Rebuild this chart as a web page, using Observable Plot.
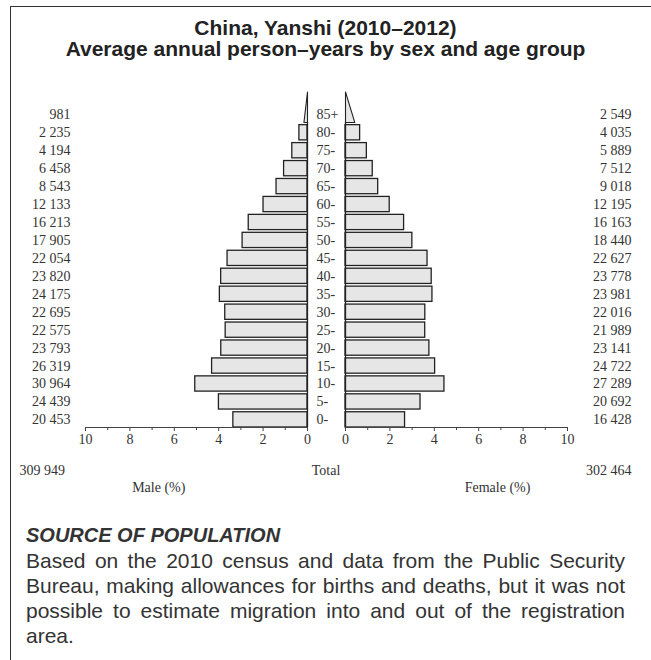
<!DOCTYPE html>
<html>
<head>
<meta charset="utf-8">
<script src="https://cdn.jsdelivr.net/npm/d3@7"></script>
<script src="https://cdn.jsdelivr.net/npm/@observablehq/plot@0.6"></script>
<style>
  body { margin: 0; background: #fff; }
  #frame { position: absolute; left: 10px; top: 6px; width: 700px; height: 700px; border-left: 1.5px solid #333; border-top: 1.5px solid #333; }
  #title { position: absolute; left: 0; top: 17px; width: 651px; text-align: center; font: bold 21px "Liberation Sans", Arial, sans-serif; line-height: 21px; color: #222; }
  #chart { position: absolute; left: 0; top: 69px; }
  #source { position: absolute; left: 26px; top: 523px; width: 599px; font: 21px "Liberation Sans", Arial, sans-serif; line-height: 25px; color: #333; text-align: justify; text-align-last: left; }
  #source .head { font-weight: bold; font-style: italic; font-size: 20px; }
</style>
</head>
<body>
<div id="frame"></div>
<div id="title"><div>China, Yanshi (2010–2012)</div><div>Average annual person–years by sex and age group</div></div>
<div id="chart"></div>
<div id="source"><div class="head">SOURCE OF POPULATION</div>Based on the 2010 census and data from the Public Security Bureau, making allowances for births and deaths, but it was not possible to estimate migration into and out of the registration area.</div>
<script>
// ---- data ----
const ages = ["0-", "5-", "10-", "15-", "20-", "25-", "30-", "35-", "40-", "45-", "50-", "55-", "60-", "65-", "70-", "75-", "80-", "85+"];
const male = [20453, 24439, 30964, 26319, 23793, 22575, 22695, 24175, 23820, 22054, 17905, 16213, 12133, 8543, 6458, 4194, 2235, 981];
const female = [16428, 20692, 27289, 24722, 23141, 21989, 22016, 23981, 23778, 22627, 18440, 16163, 12195, 9018, 7512, 5889, 4035, 2549];
const maleTotal = 309949;
const femaleTotal = 302464;
const majorTicks = [0, 2, 4, 6, 8, 10];
const minorTicks = [1, 3, 5, 7, 9];
const axisMax = 10;

// ---- layout helpers ----
const total = maleTotal + femaleTotal;
const gap = 0.856;            // half gap between the two halves, in % units
const h = 0.85;               // bar thickness in band units
const fmt = d3.formatLocale({decimal: ".", thousands: " ", grouping: [3], currency: ["", ""]}).format(",d");
const lastIdx = ages.length - 1;

const rows = ages.map((a, i) => ({
  age: a, i,
  m: male[i], f: female[i],
  mp: male[i] / total * 100,
  fp: female[i] / total * 100
}));
const barRows = rows.filter(r => r.i < lastIdx);
const oldest = rows[lastIdx];
const tri = [
  {side: "m", x: -gap, y: lastIdx - h / 2},
  {side: "m", x: -(gap + oldest.mp), y: lastIdx - h / 2},
  {side: "m", x: -gap, y: lastIdx - h / 2 + 2 * h},
  {side: "m", x: -gap, y: lastIdx - h / 2},
  {side: "f", x: gap, y: lastIdx - h / 2},
  {side: "f", x: gap + oldest.fp, y: lastIdx - h / 2},
  {side: "f", x: gap, y: lastIdx - h / 2 + 2 * h},
  {side: "f", x: gap, y: lastIdx - h / 2}
];

const fill = "#e6e6e7", stroke = "#222", ink = "#333";

const chart = Plot.plot({
  width: 651,
  height: 430,
  marginLeft: 0,
  marginRight: 0,
  marginTop: 35,
  marginBottom: 72,
  style: {fontFamily: "'Liberation Serif', 'Times New Roman', serif", fontSize: "14px", background: "transparent", color: ink},
  x: {domain: [-(gap + axisMax), gap + axisMax], range: [85, 567]},
  y: {domain: [-h / 2, 17.575], axis: null},
  marks: [
    Plot.rectX(barRows, {x1: -gap, x2: d => -(gap + d.mp), y1: d => d.i - h / 2, y2: d => d.i + h / 2, fill, stroke, strokeWidth: 1.3}),
    Plot.rectX(barRows, {x1: gap, x2: d => gap + d.fp, y1: d => d.i - h / 2, y2: d => d.i + h / 2, fill, stroke, strokeWidth: 1.3}),
    Plot.line(tri, {x: "x", y: "y", z: "side", fill, stroke, strokeWidth: 1.1, curve: "linear"}),
    Plot.ruleX([-gap, gap], {y1: -h / 2, y2: lastIdx - h / 2, stroke, strokeWidth: 1.3}),
    Plot.ruleY([-h / 2], {x1: -(gap + axisMax), x2: -gap, stroke: "#444", strokeWidth: 1.2}),
    Plot.ruleY([-h / 2], {x1: gap, x2: gap + axisMax, stroke: "#444", strokeWidth: 1.2}),
    Plot.axisX(majorTicks.map(k => -(gap + k)), {tickFormat: (d, i) => String(majorTicks[i]), tickSize: 4, tickPadding: 3, label: null, stroke: "#444", fill: ink}),
    Plot.axisX(majorTicks.map(k => gap + k), {tickFormat: (d, i) => String(majorTicks[i]), tickSize: 4, tickPadding: 3, label: null, stroke: "#444", fill: ink}),
    Plot.axisX(minorTicks.map(k => -(gap + k)), {tickFormat: () => "", tickSize: 3, label: null, stroke: "#444"}),
    Plot.axisX(minorTicks.map(k => gap + k), {tickFormat: () => "", tickSize: 3, label: null, stroke: "#444"}),
    Plot.text(rows, {x: 0, y: "i", text: "age", textAnchor: "start", dx: -10, fill: ink}),
    Plot.text(rows, {frameAnchor: "left", y: "i", text: d => fmt(d.m), textAnchor: "end", dx: 70, fill: ink}),
    Plot.text(rows, {frameAnchor: "right", y: "i", text: d => fmt(d.f), textAnchor: "end", dx: -20, fill: ink}),
    Plot.text([fmt(maleTotal)], {frameAnchor: "bottom-left", text: d => d, textAnchor: "start", dx: 19, dy: 47, fill: ink}),
    Plot.text(["Total"], {frameAnchor: "bottom", text: d => d, dy: 47, fill: ink}),
    Plot.text([fmt(femaleTotal)], {frameAnchor: "bottom-right", text: d => d, textAnchor: "end", dx: -20, dy: 47, fill: ink}),
    Plot.text([{t: "Male (%)", x: -(gap + 6.7)}, {t: "Female (%)", x: gap + 6.85}], {x: "x", frameAnchor: "bottom", text: "t", dy: 64, fill: ink})
  ]
});
document.getElementById("chart").appendChild(chart);
</script>
</body>
</html>
